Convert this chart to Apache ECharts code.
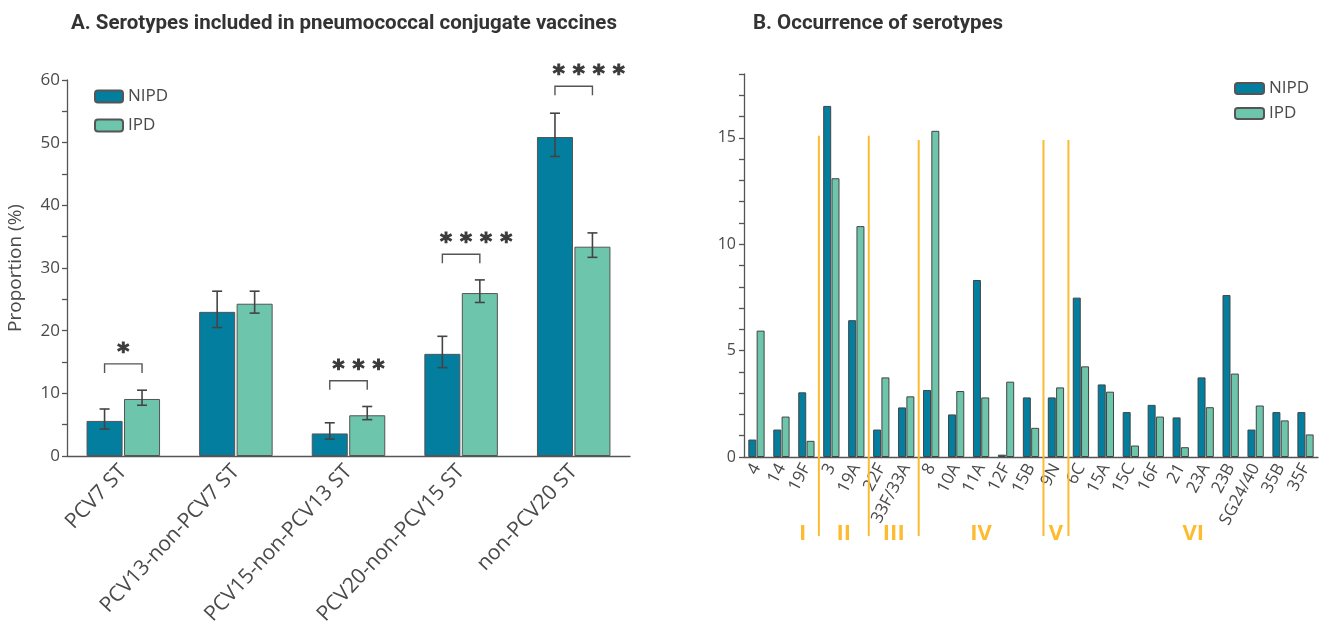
<!DOCTYPE html>
<html>
<head>
<meta charset="utf-8">
<title>Serotypes</title>
<script src="https://cdn.jsdelivr.net/npm/echarts@6/dist/echarts.min.js"></script>
<style>
  html, body { margin: 0; padding: 0; background: #fff; }
  #chart { width: 1320px; height: 630px; }
</style>
</head>
<body>
<div id="chart"></div>
<script>
// A. vaccine groups
var groupCats = ['PCV7 ST', 'PCV13-non-PCV7 ST', 'PCV15-non-PCV13 ST', 'PCV20-non-PCV15 ST', 'non-PCV20 ST']
var groupNipd = [5.6, 23.0, 3.6, 16.3, 50.9]
var groupNipdLow = [4.3, 20.5, 2.7, 14.1, 47.8]
var groupNipdHigh = [7.5, 26.3, 5.3, 19.1, 54.7]
var groupIpd = [9.1, 24.3, 6.5, 26.0, 33.4]
var groupIpdLow = [8.1, 22.8, 5.8, 24.5, 31.7]
var groupIpdHigh = [10.5, 26.3, 7.9, 28.1, 35.6]
var sigLevel = [14.7, null, 12.0, 32.2, 59.0]
var sigStars = ['*', '', '***', '****', '****']
var leftTicks = [0, 10, 20, 30, 40, 50, 60]

// B. serotypes
var serotypes = ['4', '14', '19F', '3', '19A', '22F', '33F/33A', '8', '10A', '11A', '12F', '15B', '9N', '6C', '15A', '15C', '16F', '21', '23A', '23B', 'SG24/40', '35B', '35F']
var serNipd = [0.82, 1.29, 3.04, 16.5, 6.43, 1.29, 2.33, 3.15, 2.0, 8.32, 0.11, 2.8, 2.8, 7.49, 3.41, 2.11, 2.45, 1.86, 3.74, 7.61, 1.29, 2.11, 2.11]
var serIpd = [5.94, 1.9, 0.76, 13.1, 10.85, 3.74, 2.85, 15.33, 3.1, 2.8, 3.54, 1.37, 3.27, 4.26, 3.07, 0.54, 1.9, 0.46, 2.34, 3.92, 2.42, 1.72, 1.06]
var rightTicks = [0, 5, 10, 15]
// separators sit after these category indices
var sepAfter = [2, 4, 6, 11, 12]
var sepTop = [15.1, 15.1, 14.9, 14.9, 14.9]
var groupNames = ['I', 'II', 'III', 'IV', 'V', 'VI']
var groupCenter = [1.85, 3.5, 5.5, 9, 12, 17.5]

var C_NIPD = '#037e9f'
var C_IPD = '#6dc6ab'
var C_TEXT = '#4a4a4a'
var C_YEL = '#fdbb30'
var FONT = 'Open Sans'

var BAR_W = 0.32
var BAR_GAP = 0.04

function barShift(api) {
  var band = api.size([1, 0])[0]
  var w = band * BAR_W
  return (w + w * BAR_GAP) / 2
}

// category axis rounds fractional indices, so blend neighbours by hand
function catX(api, v) {
  var lo = Math.floor(v), hi = Math.ceil(v)
  var a = api.coord([lo, 0])[0], b = api.coord([hi, 0])[0]
  return a + (b - a) * (v - lo)
}

function errorRender(sign) {
  return function (params, api) {
    var idx = api.value(0)
    var x = api.coord([idx, 0])[0] + sign * barShift(api)
    var yLo = api.coord([idx, api.value(1)])[1]
    var yHi = api.coord([idx, api.value(2)])[1]
    var st = { stroke: '#444', lineWidth: 1.6 }
    return {
      type: 'group',
      children: [
        { type: 'line', shape: { x1: x, y1: yLo, x2: x, y2: yHi }, style: st },
        { type: 'line', shape: { x1: x - 5, y1: yHi, x2: x + 5, y2: yHi }, style: st },
        { type: 'line', shape: { x1: x - 5, y1: yLo, x2: x + 5, y2: yLo }, style: st }
      ]
    }
  }
}

function bracketRender(params, api) {
  var idx = api.value(0)
  var c = api.coord([idx, api.value(1)])
  var s = barShift(api)
  var stars = sigStars[idx]
  var n = stars.length
  return {
    type: 'group',
    children: [
      {
        type: 'polyline',
        shape: { points: [[c[0] - s, c[1] + 9], [c[0] - s, c[1]], [c[0] + s, c[1]], [c[0] + s, c[1] + 9]] },
        style: { stroke: '#555', lineWidth: 1.4, fill: null }
      },
      {
        type: 'text',
        x: c[0] + (n - 1) * 5,
        y: c[1] - 11,
        style: {
          text: stars.split('').join(' '),
          fontFamily: 'DejaVu Sans',
          fontSize: 23,
          fontWeight: 'bold',
          fill: '#3a3a3a',
          stroke: '#3a3a3a',
          lineWidth: 1,
          align: 'center',
          verticalAlign: 'middle'
        }
      }
    ]
  }
}

function sepRender(params, api) {
  var i = api.value(0)
  var top = api.coord([i, api.value(1)])[1]
  var base = api.coord([i, 0])[1]
  var x = catX(api, i + 0.5)
  return {
    type: 'line',
    shape: { x1: x, y1: top, x2: x, y2: base + 79 },
    style: { stroke: C_YEL, lineWidth: 2 }
  }
}

function groupLabelRender(params, api) {
  var x = catX(api, api.value(0))
  var y = api.coord([0, 0])[1]
  return {
    type: 'text',
    x: x,
    y: y + 77,
    style: {
      text: groupNames[params.dataIndex],
      fontFamily: FONT,
      fontSize: 22,
      fontWeight: 'bold',
      fill: C_YEL,
      align: 'center',
      verticalAlign: 'middle'
    }
  }
}

var axisLineStyle = { color: '#555', width: 1.3 }
var titleStyle = { fontFamily: 'Roboto', fontWeight: 'bold', fontSize: 20.5, color: '#333' }

var chart = echarts.init(document.getElementById('chart'))
chart.setOption({
  animation: false,
  textStyle: { fontFamily: FONT },
  title: [
    { text: 'A. Serotypes included in pneumococcal conjugate vaccines', left: 66, top: 8, textStyle: titleStyle },
    { text: 'B. Occurrence of serotypes', left: 748, top: 8, textStyle: titleStyle }
  ],
  legend: [
    {
      data: ['NIPD', 'IPD'], orient: 'vertical', left: 89, top: 83,
      itemWidth: 28, itemHeight: 12, itemGap: 12,
      textStyle: { fontFamily: FONT, fontSize: 17, color: C_TEXT }
    },
    {
      data: ['NIPD', 'IPD'], orient: 'vertical', left: 1229, top: 75,
      itemWidth: 29, itemHeight: 11, itemGap: 8,
      textStyle: { fontFamily: FONT, fontSize: 17, color: C_TEXT }
    }
  ],
  grid: [
    { left: 67, right: 690, top: 80, bottom: 174 },
    { left: 744, right: 2, top: 74, bottom: 173 }
  ],
  xAxis: [
    {
      type: 'category', gridIndex: 0, data: groupCats,
      axisLine: { lineStyle: axisLineStyle },
      axisTick: { alignWithLabel: true, length: 6, lineStyle: axisLineStyle },
      axisLabel: { rotate: 47, fontFamily: FONT, fontSize: 21, color: C_TEXT, margin: 12, interval: 0 }
    },
    {
      type: 'category', gridIndex: 1, data: serotypes,
      axisLine: { lineStyle: axisLineStyle },
      axisTick: { alignWithLabel: true, length: 5, lineStyle: axisLineStyle },
      axisLabel: { rotate: 62, fontFamily: FONT, fontSize: 17, color: C_TEXT, margin: 8, interval: 0 }
    }
  ],
  yAxis: [
    {
      type: 'value', gridIndex: 0, min: leftTicks[0], max: leftTicks[leftTicks.length - 1], interval: 10,
      name: 'Proportion (%)', nameLocation: 'middle', nameGap: 42,
      nameTextStyle: { fontFamily: FONT, fontSize: 19, color: C_TEXT },
      axisLine: { show: true, lineStyle: axisLineStyle },
      axisTick: { show: true, length: 5, lineStyle: axisLineStyle },
      minorTick: { show: true, splitNumber: 2, length: 5, lineStyle: axisLineStyle },
      splitLine: { show: false },
      axisLabel: { fontFamily: FONT, fontSize: 17, color: C_TEXT, margin: 7 }
    },
    {
      type: 'value', gridIndex: 1, min: rightTicks[0], max: 18, interval: 5,
      axisLine: { show: true, lineStyle: axisLineStyle },
      axisTick: { show: true, length: 5, lineStyle: axisLineStyle },
      minorTick: { show: true, splitNumber: 5, length: 5, lineStyle: axisLineStyle },
      splitLine: { show: false },
      axisLabel: { fontFamily: FONT, fontSize: 16, color: C_TEXT, margin: 8, showMaxLabel: false }
    }
  ],
  series: [
    {
      name: 'NIPD', type: 'bar', xAxisIndex: 0, yAxisIndex: 0, data: groupNipd,
      barWidth: BAR_W * 100 + '%', barGap: BAR_GAP * 100 + '%',
      itemStyle: { color: C_NIPD, borderColor: '#555', borderWidth: 1 }
    },
    {
      name: 'IPD', type: 'bar', xAxisIndex: 0, yAxisIndex: 0, data: groupIpd,
      barWidth: BAR_W * 100 + '%', barGap: BAR_GAP * 100 + '%',
      itemStyle: { color: C_IPD, borderColor: '#555', borderWidth: 1 }
    },
    {
      name: 'NIPD', type: 'bar', xAxisIndex: 1, yAxisIndex: 1, data: serNipd,
      barWidth: BAR_W * 100 + '%', barGap: BAR_GAP * 100 + '%',
      itemStyle: { color: C_NIPD, borderColor: '#444', borderWidth: 1 }
    },
    {
      name: 'IPD', type: 'bar', xAxisIndex: 1, yAxisIndex: 1, data: serIpd,
      barWidth: BAR_W * 100 + '%', barGap: BAR_GAP * 100 + '%',
      itemStyle: { color: C_IPD, borderColor: '#444', borderWidth: 1 }
    },
    {
      type: 'custom', xAxisIndex: 0, yAxisIndex: 0, z: 5,
      renderItem: errorRender(-1),
      encode: { x: 0, y: [1, 2] },
      data: groupNipd.map(function (v, i) { return [i, groupNipdLow[i], groupNipdHigh[i]] })
    },
    {
      type: 'custom', xAxisIndex: 0, yAxisIndex: 0, z: 5,
      renderItem: errorRender(1),
      encode: { x: 0, y: [1, 2] },
      data: groupIpd.map(function (v, i) { return [i, groupIpdLow[i], groupIpdHigh[i]] })
    },
    {
      type: 'custom', xAxisIndex: 0, yAxisIndex: 0, z: 5,
      renderItem: bracketRender,
      encode: { x: 0, y: 1 },
      data: sigLevel.map(function (v, i) { return [i, v] }).filter(function (d) { return d[1] != null })
    },
    {
      type: 'custom', xAxisIndex: 1, yAxisIndex: 1, z: 6, clip: false,
      renderItem: sepRender,
      encode: { x: 0, y: 1 },
      data: sepAfter.map(function (v, i) { return [v, sepTop[i]] })
    },
    {
      type: 'custom', xAxisIndex: 1, yAxisIndex: 1, z: 6, clip: false,
      renderItem: groupLabelRender,
      encode: { x: 0, y: 1 },
      data: groupCenter.map(function (v) { return [v, 0] })
    }
  ]
})
</script>
</body>
</html>
